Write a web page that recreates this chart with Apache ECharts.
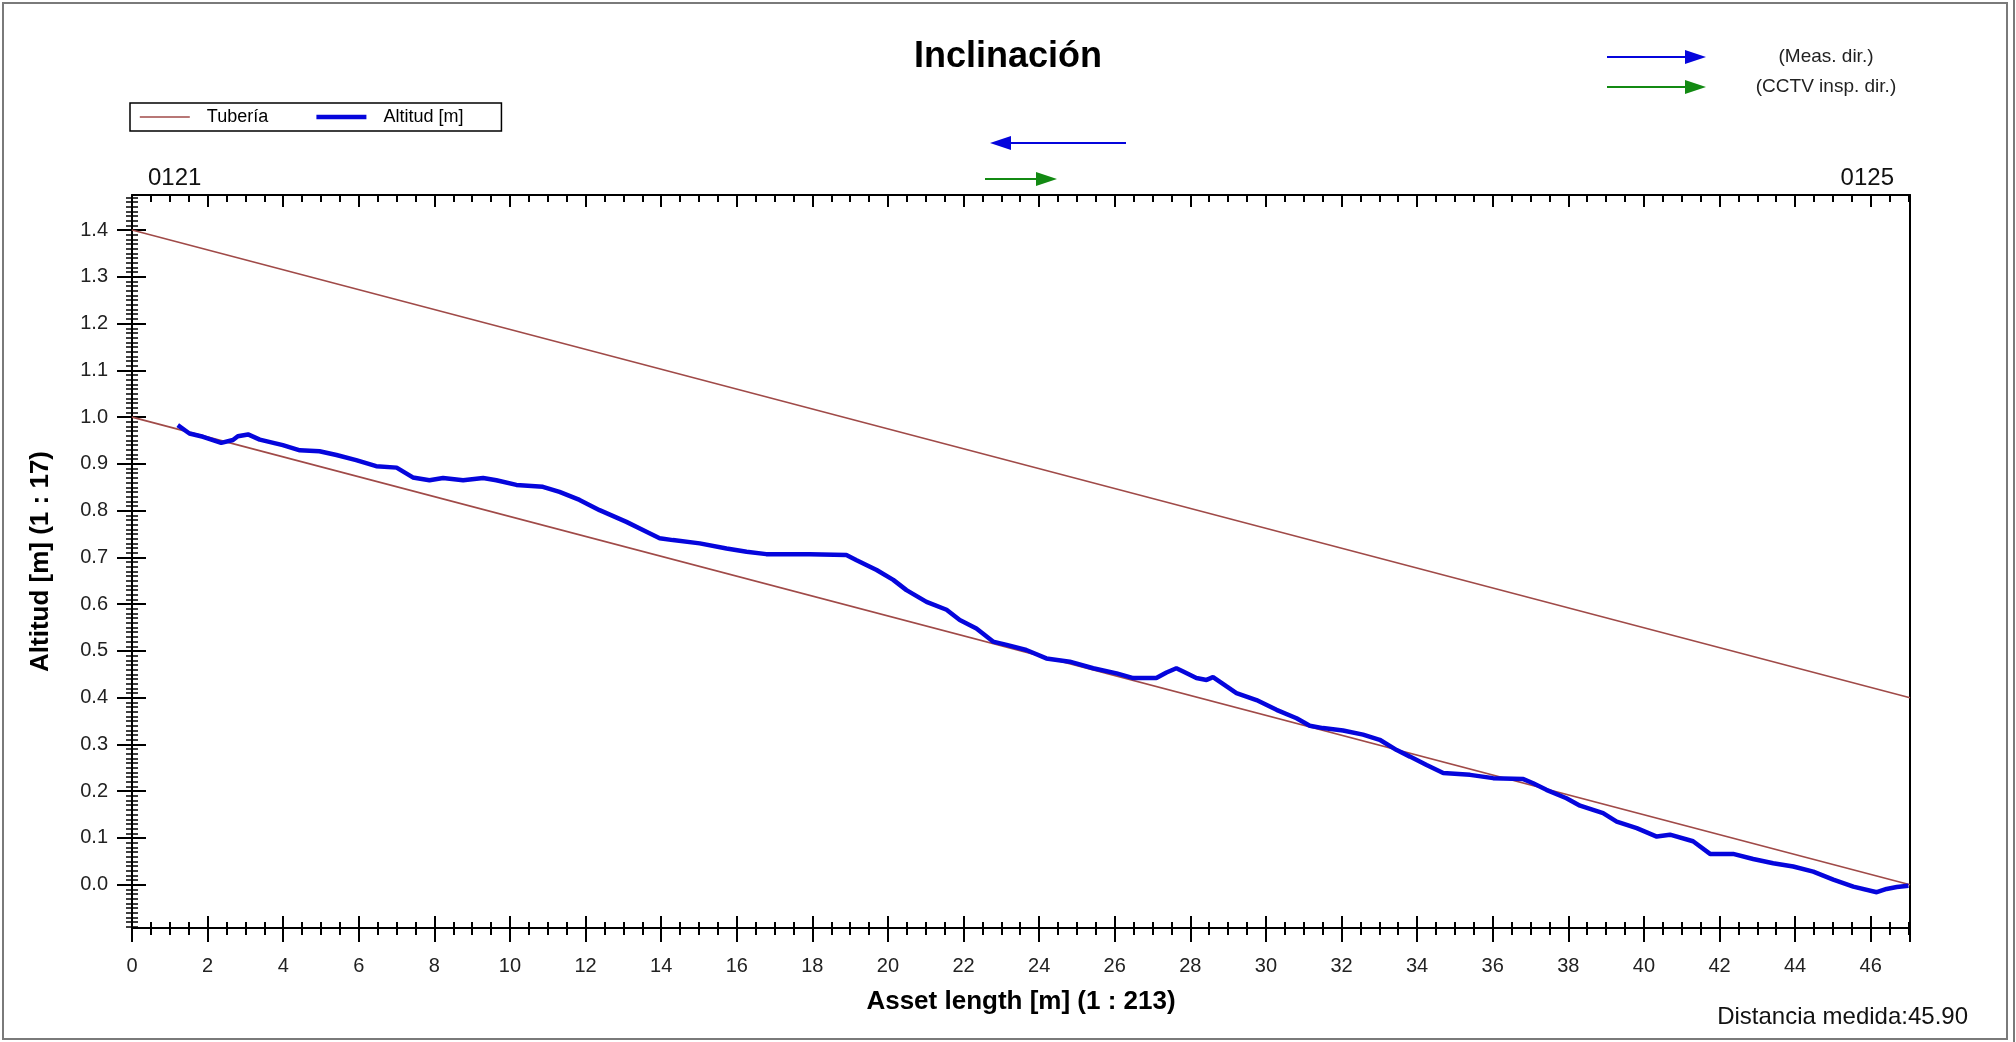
<!DOCTYPE html>
<html>
<head>
<meta charset="utf-8">
<title>Inclinación</title>
<script src="https://cdn.jsdelivr.net/npm/echarts@6/dist/echarts.min.js"></script>
<style>
  html, body { margin: 0; padding: 0; background: #fff; }
  #chart { width: 2016px; height: 1042px; }
</style>
</head>
<body>
<div id="chart"></div>
<script>
// distancia a lo largo del tramo [m] y altitud medida [m]
var distancia = [
  1.21, 1.52, 1.88, 2.36, 2.67, 2.80, 3.07, 3.38, 3.99, 4.44, 4.96, 5.41, 5.93, 6.46, 7.00,
  7.43, 7.87, 8.23, 8.76, 9.29, 9.64, 10.17, 10.87, 11.31, 11.84, 12.37, 13.08, 13.61, 13.96,
  14.31, 15.02, 15.73, 16.26, 16.78, 17.93, 18.90, 19.17, 19.70, 20.14, 20.49, 21.02, 21.55,
  21.90, 22.34, 22.78, 23.14, 23.66, 24.19, 24.81, 25.43, 26.05, 26.49, 27.10, 27.37, 27.63,
  27.81, 28.16, 28.43, 28.60, 28.96, 29.22, 29.75, 30.28, 30.81, 31.16, 31.51, 32.04, 32.57,
  33.01, 33.46, 33.81, 34.25, 34.69, 35.40, 36.01, 36.81, 37.07, 37.42, 37.95, 38.31, 38.92,
  39.28, 39.81, 40.34, 40.69, 41.30, 41.75, 42.36, 42.89, 43.42, 43.95, 44.48, 45.01, 45.54,
  46.16, 46.42, 46.69, 47.00
]
var altitud = [
  0.983, 0.965, 0.958, 0.945, 0.951, 0.959, 0.963, 0.952, 0.940, 0.929, 0.927, 0.919, 0.908, 0.895, 0.892,
  0.871, 0.865, 0.870, 0.865, 0.870, 0.865, 0.855, 0.851, 0.840, 0.823, 0.801, 0.776, 0.755, 0.741,
  0.737, 0.730, 0.719, 0.712, 0.707, 0.707, 0.705, 0.694, 0.673, 0.652, 0.630, 0.605, 0.588,
  0.566, 0.548, 0.520, 0.513, 0.502, 0.484, 0.477, 0.463, 0.452, 0.442, 0.442, 0.454, 0.463,
  0.456, 0.442, 0.438, 0.444, 0.424, 0.410, 0.395, 0.374, 0.356, 0.340, 0.335, 0.330, 0.321,
  0.310, 0.288, 0.274, 0.256, 0.239, 0.235, 0.228, 0.226, 0.217, 0.203, 0.185, 0.169, 0.153,
  0.135, 0.121, 0.103, 0.107, 0.093, 0.066, 0.066, 0.055, 0.046, 0.039, 0.028, 0.011, -0.004,
  -0.016, -0.009, -0.005, -0.002
]

// tubería: clave superior e inferior
var tuberiaX = [0, 47.04]
var tuberiaSup = [1.40, 0.40]
var tuberiaInf = [1.00, 0.00]

// ejes
var xMin = 0
var xMax = 47.04
var yMin = -0.0925
var yMax = 1.475
var yTicks = [0.0, 0.1, 0.2, 0.3, 0.4, 0.5, 0.6, 0.7, 0.8, 0.9, 1.0, 1.1, 1.2, 1.3, 1.4]
var yMinorTicks = []
for (var k = -9; k <= 147; k++) yMinorTicks.push(+(k / 100).toFixed(2))

function pares (xs, ys) {
  return xs.map(function (x, i) { return [x, ys[i]] })
}

var FONT = 'Liberation Sans, Arial, sans-serif'
var MARRON = '#a04a48'
var AZUL = '#0505dc'
var VERDE = '#138a13'

var chart = echarts.init(document.getElementById('chart'))

function eje (extra) {
  var base = {
    type: 'value',
    axisLine: { show: false, onZero: false, lineStyle: { color: '#000', width: 2 } },
    axisTick: { show: true, lineStyle: { color: '#000', width: 2 } },
    axisLabel: { show: false },
    splitLine: { show: false }
  }
  return echarts.util.merge(base, extra, true)
}

function flecha (x1, x2, y, color) {
  // punta en x2
  var dir = x2 > x1 ? 1 : -1
  var base = x2 - dir * 21
  return {
    type: 'group',
    silent: true,
    children: [
      { type: 'line', shape: { x1: x1, y1: y, x2: base, y2: y }, style: { stroke: color, lineWidth: 2 } },
      { type: 'polygon', shape: { points: [[base, y - 7], [x2, y], [base, y + 7]] }, style: { fill: color } }
    ]
  }
}

var option = {
  backgroundColor: '#fff',
  animation: false,
  textStyle: { fontFamily: FONT },
  title: {
    text: 'Inclinación',
    left: 'center',
    top: 34,
    textStyle: { fontFamily: FONT, fontSize: 36, fontWeight: 'bold', color: '#000' }
  },
  legend: {
    left: 130,
    top: 103,
    data: ['Tubería', 'Altitud [m]'],
    itemWidth: 50,
    itemHeight: 14,
    itemGap: 46,
    padding: [5, 38, 5, 9],
    borderColor: '#000',
    borderWidth: 1.5,
    borderRadius: 0,
    selectedMode: false,
    itemStyle: { opacity: 0 },
    lineStyle: { width: 'inherit' },
    textStyle: { fontFamily: FONT, fontSize: 18, color: '#000', padding: [0, 0, 0, 12] }
  },
  grid: { left: 132, right: 106, top: 195, bottom: 114, containLabel: false },
  xAxis: [
    eje({
      position: 'bottom', min: xMin, max: xMax, interval: 2,
      name: 'Asset length [m] (1 : 213)',
      nameLocation: 'middle',
      nameGap: 61,
      nameTextStyle: { fontFamily: FONT, fontSize: 26, fontWeight: 'bold', color: '#000' },
      axisLine: { show: true },
      axisTick: { inside: false, length: 14 },
      minorTick: { show: true, splitNumber: 4, length: 7, lineStyle: { color: '#000', width: 2 } },
      axisLabel: {
        show: true, margin: 28, fontSize: 20, color: '#222', fontFamily: FONT,
        showMaxLabel: false,
        formatter: function (v) { return String(Math.round(v)) }
      }
    }),
    eje({
      position: 'bottom', min: xMin, max: xMax, interval: 2,
      axisTick: { inside: true, length: 12 },
      minorTick: { show: true, splitNumber: 4, length: 6, lineStyle: { color: '#000', width: 2 } }
    }),
    eje({
      position: 'top', min: xMin, max: xMax, interval: 2,
      axisLine: { show: true },
      axisTick: { inside: true, length: 12 },
      minorTick: { show: true, splitNumber: 4, length: 7, lineStyle: { color: '#000', width: 2 } }
    })
  ],
  yAxis: [
    eje({
      position: 'left', min: yMin, max: yMax,
      name: 'Altitud [m] (1 : 17)',
      nameLocation: 'middle',
      nameGap: 78,
      nameRotate: 90,
      nameTextStyle: { fontFamily: FONT, fontSize: 26, fontWeight: 'bold', color: '#000' },
      axisLine: { show: true },
      axisTick: { inside: false, length: 15, customValues: yTicks },
      axisLabel: {
        show: true, margin: 24, fontSize: 20, color: '#222', fontFamily: FONT,
        customValues: yTicks,
        formatter: function (v) { return v.toFixed(1) }
      }
    }),
    eje({
      position: 'left', min: yMin, max: yMax,
      axisTick: { inside: true, length: 14, customValues: yTicks }
    }),
    eje({
      position: 'left', min: yMin, max: yMax,
      axisTick: { inside: false, length: 6, customValues: yMinorTicks, lineStyle: { width: 1.5 } }
    }),
    eje({
      position: 'left', min: yMin, max: yMax,
      axisTick: { inside: true, length: 6, customValues: yMinorTicks, lineStyle: { width: 1.5 } }
    }),
    eje({
      position: 'right', min: yMin, max: yMax,
      axisLine: { show: true },
      axisTick: { show: false }
    })
  ],
  series: [
    {
      name: 'Tubería',
      type: 'line',
      symbol: 'none',
      data: pares(tuberiaX, tuberiaSup),
      lineStyle: { color: MARRON, width: 1.6 },
      itemStyle: { color: MARRON }
    },
    {
      name: 'Tubería',
      type: 'line',
      symbol: 'none',
      data: pares(tuberiaX, tuberiaInf),
      lineStyle: { color: MARRON, width: 1.6 },
      itemStyle: { color: MARRON }
    },
    {
      name: 'Altitud [m]',
      type: 'line',
      symbol: 'none',
      data: pares(distancia, altitud),
      lineStyle: { color: AZUL, width: 4.5 },
      itemStyle: { color: AZUL }
    }
  ],
  graphic: [
    // marco exterior
    { type: 'rect', silent: true, shape: { x: 3, y: 3, width: 2004, height: 1036 }, style: { fill: 'none', stroke: '#7a7a7a', lineWidth: 2 } },
    { type: 'line', silent: true, shape: { x1: 2014, y1: 0, x2: 2014, y2: 1042 }, style: { stroke: '#7a7a7a', lineWidth: 2 } },
    // pozos
    { type: 'text', left: 148, top: 166, style: { text: '0121', fontFamily: FONT, fontSize: 24, fill: '#111' } },
    { type: 'text', right: 122, top: 166, style: { text: '0125', fontFamily: FONT, fontSize: 24, fill: '#111' } },
    // sentidos
    flecha(1126, 990, 143, AZUL),
    flecha(985, 1057, 179, VERDE),
    flecha(1607, 1706, 57, AZUL),
    flecha(1607, 1706, 87, VERDE),
    { type: 'text', x: 1826, y: 57, style: { text: '(Meas. dir.)', fontFamily: FONT, fontSize: 19, fill: '#222', align: 'center', verticalAlign: 'middle' } },
    { type: 'text', x: 1826, y: 87, style: { text: '(CCTV insp. dir.)', fontFamily: FONT, fontSize: 19, fill: '#222', align: 'center', verticalAlign: 'middle' } },
    { type: 'text', x: 1968, y: 1017, style: { text: 'Distancia medida:45.90', fontFamily: FONT, fontSize: 24, fill: '#111', align: 'right', verticalAlign: 'middle' } }
  ]
}

chart.setOption(option)
window.addEventListener('resize', function () { chart.resize() })
</script>
</body>
</html>
